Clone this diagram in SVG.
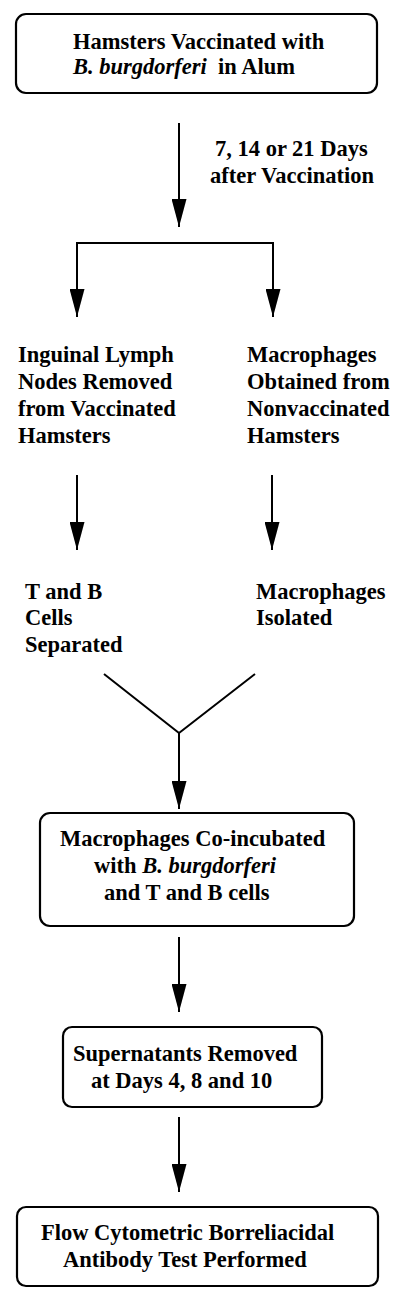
<svg xmlns="http://www.w3.org/2000/svg" width="400" height="1302" viewBox="0 0 400 1302">
<style>
.box{fill:#fff;stroke:#000;stroke-width:2.2}
.t{font-family:"Liberation Serif","Times New Roman",serif;font-weight:bold;font-size:22.5px;fill:#000}
.i{font-style:italic}
.c{fill:none;stroke:#000;stroke-width:2}
</style>
<defs>
<marker id="ah" viewBox="0 0 28 15" markerWidth="28" markerHeight="15" refX="28" refY="7.5" orient="auto" markerUnits="userSpaceOnUse">
<path d="M0,0 L28,7.5 L0,15 Z" fill="#000"/>
</marker>
</defs>
<rect width="400" height="1302" fill="#fff"/>
<g id="connectors">
<path class="c" d="M179,123 V227" marker-end="url(#ah)"/>
<path class="c" d="M77,243 H273"/>
<path class="c" d="M77,242 V317" marker-end="url(#ah)"/>
<path class="c" d="M273,242 V317" marker-end="url(#ah)"/>
<path class="c" d="M77,475 V550" marker-end="url(#ah)"/>
<path class="c" d="M272,475 V550" marker-end="url(#ah)"/>
<path class="c" d="M104,674 L179,733 L255,674"/>
<path class="c" d="M179,733 V809" marker-end="url(#ah)"/>
<path class="c" d="M179,937 V1012" marker-end="url(#ah)"/>
<path class="c" d="M179,1117 V1192" marker-end="url(#ah)"/>
</g>
<g id="n1">
<rect class="box" x="16" y="14" width="361" height="79" rx="10"/>
<text class="t" x="73" y="49">Hamsters Vaccinated with</text>
<text class="t" y="74"><tspan x="73" class="i">B. burgdorferi</tspan><tspan x="218">in Alum</tspan></text>
</g>
<g id="label1">
<text class="t" x="215" y="156">7, 14 or 21 Days</text>
<text class="t" x="210" y="183">after Vaccination</text>
</g>
<g id="n2">
<text class="t" x="18" y="362">Inguinal Lymph</text>
<text class="t" x="18" y="389">Nodes Removed</text>
<text class="t" x="18" y="416">from Vaccinated</text>
<text class="t" x="18" y="443">Hamsters</text>
</g>
<g id="n3">
<text class="t" x="247" y="362">Macrophages</text>
<text class="t" x="247" y="389">Obtained from</text>
<text class="t" x="247" y="416">Nonvaccinated</text>
<text class="t" x="247" y="443">Hamsters</text>
</g>
<g id="n4">
<text class="t" x="25" y="599">T and B</text>
<text class="t" x="25" y="625">Cells</text>
<text class="t" x="25" y="652">Separated</text>
</g>
<g id="n5">
<text class="t" x="256" y="599">Macrophages</text>
<text class="t" x="256" y="625">Isolated</text>
</g>
<g id="n6">
<rect class="box" x="40" y="813" width="314" height="113" rx="10"/>
<text class="t" x="60" y="846">Macrophages Co-incubated</text>
<text class="t" x="94" y="873">with <tspan class="i">B. burgdorferi</tspan></text>
<text class="t" x="104" y="900">and T and B cells</text>
</g>
<g id="n7">
<rect class="box" x="63" y="1027" width="259" height="80" rx="9"/>
<text class="t" x="73" y="1061">Supernatants Removed</text>
<text class="t" x="91" y="1088">at Days 4, 8 and 10</text>
</g>
<g id="n8">
<rect class="box" x="17" y="1207" width="361" height="79" rx="9"/>
<text class="t" x="41" y="1240">Flow Cytometric Borreliacidal</text>
<text class="t" x="63" y="1267">Antibody Test Performed</text>
</g>
</svg>
